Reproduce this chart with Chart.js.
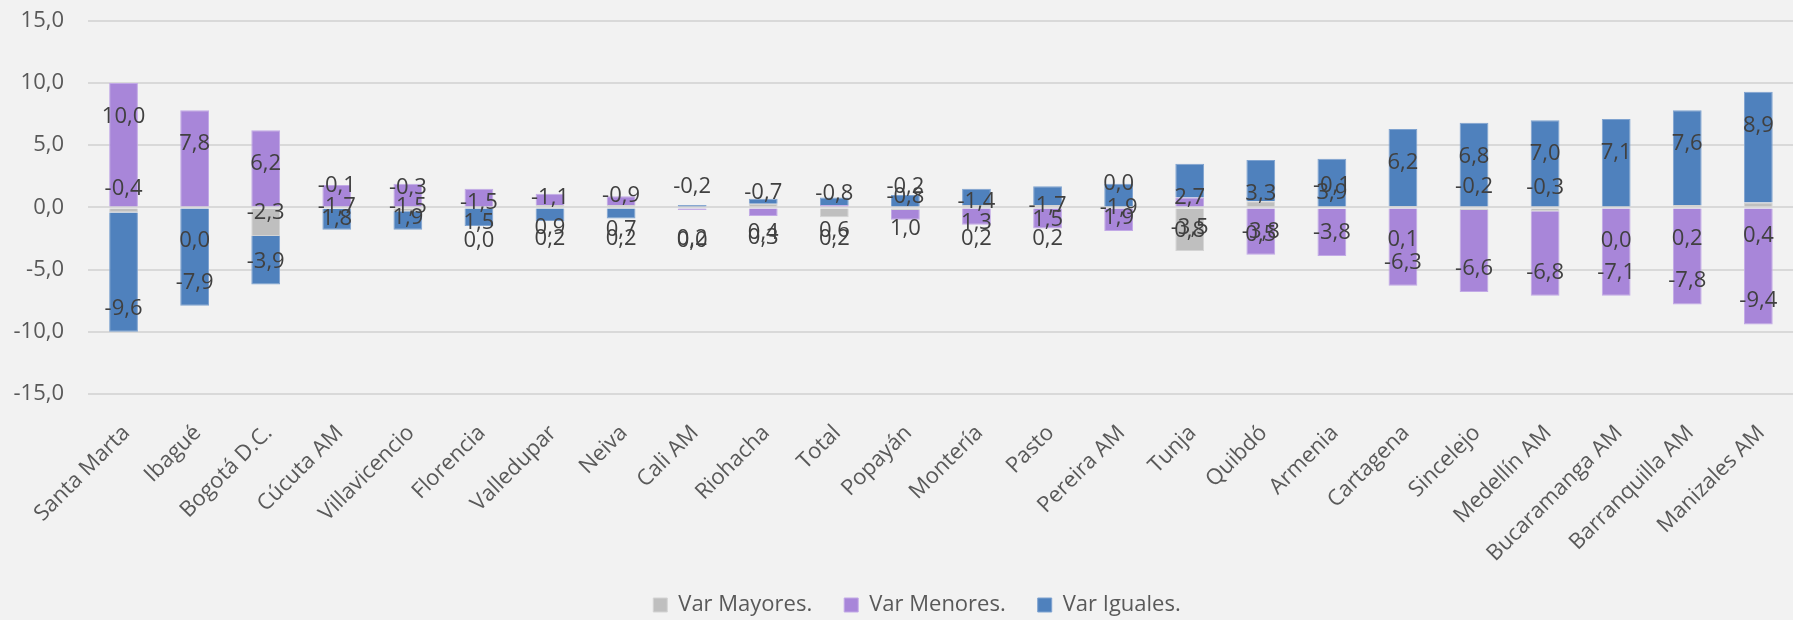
<!DOCTYPE html>
<html>
<head>
<meta charset="utf-8">
<script src="https://cdn.jsdelivr.net/npm/chart.js@4.4.1/dist/chart.umd.min.js"></script>
<style>
  html, body { margin: 0; padding: 0; background: #F2F2F2; overflow: hidden; }
  #wrap { width: 1793px; height: 620px; overflow: hidden; position: relative; }
  canvas { display: block; }
</style>
</head>
<body>
<div id="wrap"><canvas id="c" width="1803" height="620"></canvas></div>
<script>
const categories = ['Santa Marta','Ibagué','Bogotá D.C.','Cúcuta AM','Villavicencio','Florencia','Valledupar','Neiva','Cali AM','Riohacha','Total','Popayán','Montería','Pasto','Pereira AM','Tunja','Quibdó','Armenia','Cartagena','Sincelejo','Medellín AM','Bucaramanga AM','Barranquilla AM','Manizales AM'];
const varMayores = [-0.4, 0.0, -2.3, -0.1, -0.3, 0.0, 0.2, 0.2, 0.0, 0.3, -0.8, -0.2, 0.2, 0.2, -0, -3.5, 0.5, -0.1, 0.1, -0.2, -0.3, 0.0, 0.2, 0.4];
const varMenores = [10.0, 7.8, 6.2, 1.8, 1.9, 1.5, 0.9, 0.7, -0.2, -0.7, 0.2, -0.8, -1.4, -1.7, -1.9, 0.8, -3.8, -3.8, -6.3, -6.6, -6.8, -7.1, -7.8, -9.4];
const varIguales = [-9.6, -7.9, -3.9, -1.7, -1.5, -1.5, -1.1, -0.9, 0.2, 0.4, 0.6, 1.0, 1.3, 1.5, 1.9, 2.7, 3.3, 3.9, 6.2, 6.8, 7.0, 7.1, 7.6, 8.9];
const seriesNames = ['Var Mayores.', 'Var Menores.', 'Var Iguales.'];
const yTicks = [-15, -10, -5, 0, 5, 10, 15];

const FONT = '"Open Sans", "Noto Sans", sans-serif';
const fmt = v => v.toFixed(1).replace('.', ',');

const bgPlugin = {
  id: 'bg',
  beforeDraw(chart) {
    const ctx = chart.ctx;
    ctx.save();
    ctx.fillStyle = '#F2F2F2';
    ctx.fillRect(0, 0, chart.width, chart.height);
    ctx.restore();
    const lg = chart.legend;
    if (lg && !lg._shifted) {
      const dx = 917 - (lg.left + lg.right) / 2;
      lg.left += dx; lg.right += dx;
      lg.top += 6; lg.bottom += 6;
      lg._shifted = true;
    }
  },
  afterUpdate(chart) { if (chart.legend) chart.legend._shifted = false; }
};

const labelPlugin = {
  id: 'valLabels',
  afterDatasetsDraw(chart) {
    const ctx = chart.ctx;
    ctx.save();
    ctx.font = '22px ' + FONT;
    ctx.fillStyle = '#404040';
    ctx.textAlign = 'center';
    ctx.textBaseline = 'alphabetic';
    chart.data.datasets.forEach((ds, i) => {
      const meta = chart.getDatasetMeta(i);
      meta.data.forEach((el, j) => {
        const v = ds.data[j];
        const neg = v < 0 || Object.is(v, -0);
        const cy = neg ? el.y - 25 : el.y + 32;
        ctx.fillText(fmt(v), el.x, cy + 8);
      });
    });
    ctx.restore();
  }
};

const colors = ['#BFBFBF', '#A886D9', '#4F81BD'];
const borders = ['#D4D4D4', '#C2A9E6', '#7FA3D0'];
const seriesData = [varMayores, varMenores, varIguales];

new Chart(document.getElementById('c'), {
  type: 'bar',
  data: {
    labels: categories,
    datasets: seriesData.map((d, i) => ({
      label: seriesNames[i],
      data: d,
      backgroundColor: colors[i],
      borderColor: borders[i],
      borderWidth: 1,
      categoryPercentage: 1.0,
      barPercentage: 0.405
    }))
  },
  options: {
    responsive: false,
    devicePixelRatio: 1,
    animation: false,
    layout: { padding: { top: 20.7, right: 0, bottom: 0, left: 0 } },
    plugins: {
      tooltip: { enabled: false },
      legend: {
        position: 'bottom',
        labels: {
          font: { family: FONT, size: 22 },
          color: '#595959',
          boxWidth: 14,
          boxHeight: 14,
          padding: 32
        }
      }
    },
    scales: {
      x: {
        stacked: true,
        offset: true,
        grid: { display: false, drawTicks: false },
        border: { display: false },
        afterFit(s) {
          s.height = 161.9;
          s._computeLabelArea = () => undefined;
        },
        ticks: {
          autoSkip: false,
          minRotation: 45,
          maxRotation: 45,
          padding: 26,
          labelOffset: 3,
          color: '#595959',
          font: { family: FONT, size: 22 }
        }
      },
      y: {
        stacked: true,
        min: -15,
        max: 15,
        afterFit(s) { s.width = 88; s.paddingTop = 0; s.paddingBottom = 0; },
        afterBuildTicks(s) { s.ticks = yTicks.map(v => ({ value: v })); },
        grid: { color: '#D9D9D9', lineWidth: 2, drawTicks: false },
        border: { display: false },
        ticks: {
          padding: 24,
          color: '#595959',
          font: { family: FONT, size: 22 },
          callback: v => fmt(v)
        }
      }
    }
  },
  plugins: [bgPlugin, labelPlugin]
});
</script>
</body>
</html>
